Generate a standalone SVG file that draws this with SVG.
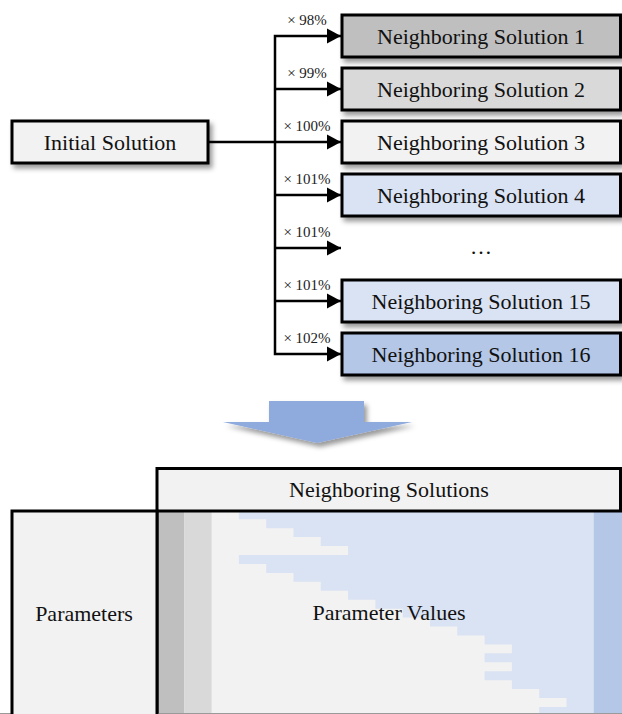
<svg xmlns="http://www.w3.org/2000/svg" width="622" height="714" viewBox="0 0 622 714">
  <style>
    .box { stroke: #000; stroke-width: 3; }
    .lbl { font-family: "Liberation Serif", "Times New Roman", serif; font-size: 22px; fill: #111; text-anchor: middle; }
    .pct { font-family: "Liberation Serif", "Times New Roman", serif; font-size: 15px; fill: #222; text-anchor: middle; }
    .wire { fill: none; stroke: #000; stroke-width: 2.5; }
    .g0 { fill: #bfbfbf; }
    .g1 { fill: #d9d9d9; }
    .g2 { fill: #f2f2f2; }
    .b1 { fill: #dae3f3; }
    .b2 { fill: #b4c7e7; }
  </style>
  <defs>
    <filter id="shadow" x="-10%" y="-30%" width="125%" height="170%">
      <feDropShadow dx="3" dy="4" stdDeviation="2.5" flood-color="#000" flood-opacity="0.4"/>
    </filter>
    <marker id="head" markerUnits="userSpaceOnUse" markerWidth="15" markerHeight="16" refX="14" refY="8" orient="auto">
      <path d="M0,0.5 L14,8 L0,15.5 Z" fill="#000"/>
    </marker>
  </defs>

  <rect width="622" height="714" fill="#fff"/>

  <!-- connectors -->
  <g id="connectors">
    <path class="wire" d="M208 142 H275"/>
    <path class="wire" d="M275 142 V36 H341" marker-end="url(#head)"/>
    <path class="wire" d="M275 89 H341" marker-end="url(#head)"/>
    <path class="wire" d="M275 142 H341" marker-end="url(#head)"/>
    <path class="wire" d="M275 195 H341" marker-end="url(#head)"/>
    <path class="wire" d="M275 248 H341" marker-end="url(#head)"/>
    <path class="wire" d="M275 301 H341" marker-end="url(#head)"/>
    <path class="wire" d="M275 142 V354 H341" marker-end="url(#head)"/>
    <text class="pct" x="307" y="25">× 98%</text>
    <text class="pct" x="307" y="78">× 99%</text>
    <text class="pct" x="307" y="131">× 100%</text>
    <text class="pct" x="307" y="184">× 101%</text>
    <text class="pct" x="307" y="237">× 101%</text>
    <text class="pct" x="307" y="290">× 101%</text>
    <text class="pct" x="307" y="343">× 102%</text>
  </g>

  <!-- source node -->
  <g id="initial">
    <rect class="box g2" x="12" y="121" width="196" height="42" filter="url(#shadow)"/>
    <text class="lbl" x="110" y="150">Initial Solution</text>
  </g>

  <!-- neighbour nodes -->
  <g id="n1">
    <rect class="box g0" x="342" y="15" width="278.5" height="42" filter="url(#shadow)"/>
    <text class="lbl" x="481" y="44">Neighboring Solution 1</text>
  </g>
  <g id="n2">
    <rect class="box g1" x="342" y="68" width="278.5" height="42" filter="url(#shadow)"/>
    <text class="lbl" x="481" y="97">Neighboring Solution 2</text>
  </g>
  <g id="n3">
    <rect class="box g2" x="342" y="121" width="278.5" height="42" filter="url(#shadow)"/>
    <text class="lbl" x="481" y="150">Neighboring Solution 3</text>
  </g>
  <g id="n4">
    <rect class="box b1" x="342" y="174" width="278.5" height="42" filter="url(#shadow)"/>
    <text class="lbl" x="481" y="203">Neighboring Solution 4</text>
  </g>
  <g id="ellipsis">
    <text class="lbl" x="481" y="254">…</text>
  </g>
  <g id="n15">
    <rect class="box b1" x="342" y="280" width="278.5" height="42" filter="url(#shadow)"/>
    <text class="lbl" x="481" y="309">Neighboring Solution 15</text>
  </g>
  <g id="n16">
    <rect class="box b2" x="342" y="333" width="278.5" height="42" filter="url(#shadow)"/>
    <text class="lbl" x="481" y="362">Neighboring Solution 16</text>
  </g>

  <!-- transition arrow -->
  <g id="down-arrow">
    <polygon points="269,401 364,401 364,422 412,422 317,443 223,422 269,422" fill="#8faadc" filter="url(#shadow)"/>
  </g>

  <!-- parameter table -->
  <g id="table">
    <rect class="g2" x="157" y="510" width="465" height="206"/>
    <rect class="g0" x="157" y="510" width="27.3" height="206"/>
    <rect class="g1" x="184.3" y="510" width="27.3" height="206"/>
    <path class="b1" d="M238.9 510 V519.24 H266.2 V528.18 H293.5 V537.12 H320.8 V546.06 H348.1 V555 H238.9 V563.94 H266.2 V572.88 H293.5 V581.82 H320.8 V590.76 H348.1 V599.7 H375.4 V608.64 H402.7 V617.58 H430 V626.52 H457.3 V635.46 H484.6 V644.4 H511.9 V653.34 H484.6 V662.28 H511.9 V671.22 H484.6 V680.16 H511.9 V689.1 H539.2 V698.04 H566.5 V706.98 H539.2 V716 H594 V510 Z"/>
    <rect class="b2" x="593.8" y="510" width="28.2" height="206"/>
    <text class="lbl" x="389" y="620">Parameter Values</text>
    <line x1="157" y1="511" x2="157" y2="716" stroke="#000" stroke-width="3"/>
    <line x1="0" y1="713.5" x2="622" y2="713.5" stroke="#9a9a9a" stroke-width="1"/>
  </g>
  <g id="header">
    <rect class="box g2" x="157" y="468.5" width="463.5" height="42.5"/>
    <text class="lbl" x="389" y="497">Neighboring Solutions</text>
  </g>
  <g id="parameters">
    <rect class="box g2" x="12" y="511" width="145" height="206"/>
    <text class="lbl" x="84" y="621">Parameters</text>
  </g>
</svg>
